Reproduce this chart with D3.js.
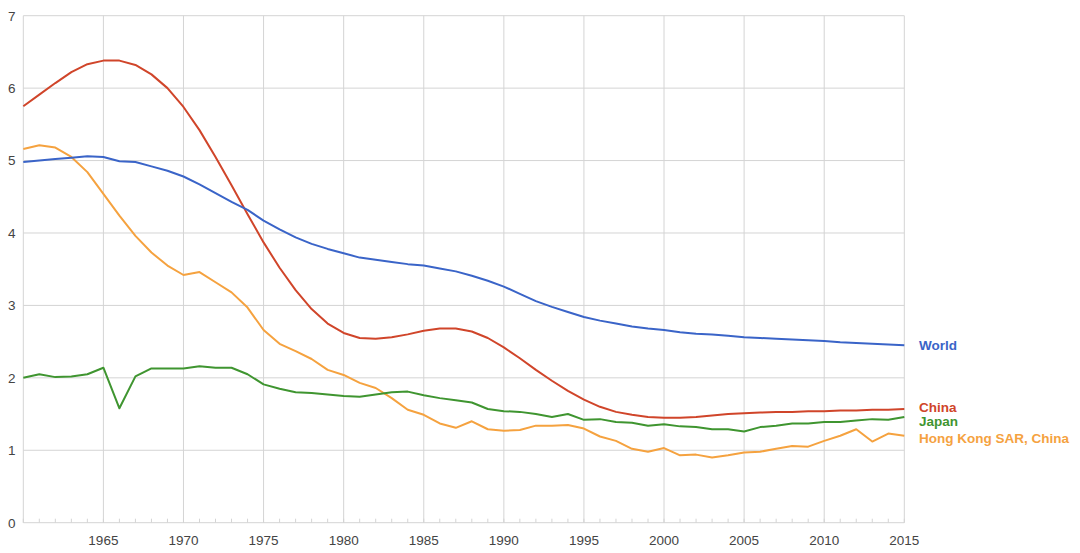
<!DOCTYPE html>
<html>
<head>
<meta charset="utf-8">
<script src="https://cdn.jsdelivr.net/npm/d3@7"></script>
<style>
  html, body { margin: 0; padding: 0; background: #fff; }
  svg { display: block; font-family: "Liberation Sans", Arial, sans-serif; }
</style>
</head>
<body>
<svg id="chart" width="1080" height="553"></svg>
<script>
const years = d3.range(1960, 2016);

const world = [4.98,5.00,5.02,5.04,5.06,5.05,4.99,4.98,4.92,4.86,
               4.78,4.67,4.55,4.43,4.32,4.17,4.05,3.94,3.85,3.78,
               3.72,3.66,3.63,3.60,3.57,3.55,3.51,3.47,3.41,3.34,
               3.26,3.16,3.06,2.98,2.91,2.84,2.79,2.75,2.71,2.68,
               2.66,2.63,2.61,2.60,2.58,2.56,2.55,2.54,2.53,2.52,
               2.51,2.49,2.48,2.47,2.46,2.45];

const china = [5.75,5.91,6.07,6.22,6.33,6.38,6.38,6.32,6.19,6.00,
               5.74,5.42,5.05,4.66,4.26,3.87,3.52,3.21,2.95,2.75,
               2.62,2.55,2.54,2.56,2.60,2.65,2.68,2.68,2.64,2.55,
               2.42,2.27,2.11,1.96,1.82,1.70,1.60,1.53,1.49,1.46,
               1.45,1.45,1.46,1.48,1.50,1.51,1.52,1.53,1.53,1.54,
               1.54,1.55,1.55,1.56,1.56,1.57];

const japan = [2.00,2.05,2.01,2.02,2.05,2.14,1.58,2.02,2.13,2.13,
               2.13,2.16,2.14,2.14,2.05,1.91,1.85,1.80,1.79,1.77,
               1.75,1.74,1.77,1.80,1.81,1.76,1.72,1.69,1.66,1.57,
               1.54,1.53,1.50,1.46,1.50,1.42,1.43,1.39,1.38,1.34,
               1.36,1.33,1.32,1.29,1.29,1.26,1.32,1.34,1.37,1.37,
               1.39,1.39,1.41,1.43,1.42,1.46];

const hongkong = [5.16,5.21,5.18,5.05,4.84,4.54,4.24,3.96,3.73,3.55,
                  3.42,3.46,3.32,3.18,2.97,2.66,2.47,2.37,2.26,2.11,
                  2.04,1.93,1.86,1.72,1.56,1.49,1.37,1.31,1.40,1.29,
                  1.27,1.28,1.34,1.34,1.35,1.30,1.19,1.13,1.02,0.98,
                  1.03,0.93,0.94,0.90,0.93,0.97,0.98,1.02,1.06,1.05,
                  1.13,1.20,1.29,1.12,1.23,1.20];

const seriesNames = ["World", "China", "Japan", "Hong Kong SAR, China"];
const seriesValues = [world, china, japan, hongkong];
const seriesColors = ["#3a64c8", "#d0452a", "#3f9530", "#f5a23f"];

const yTicks = [0, 1, 2, 3, 4, 5, 6, 7];
const xTicks = [1965, 1970, 1975, 1980, 1985, 1990, 1995, 2000, 2005, 2010, 2015];

const svg = d3.select("#chart");
const x = d3.scaleLinear().domain([1960, 2015]).range([23.3, 904.3]);
const y = d3.scaleLinear().domain([0, 7]).range([522.7, 15.7]);

// horizontal grid
svg.append("g").selectAll("line").data(yTicks).join("line")
  .attr("x1", x(1960)).attr("x2", x(2015))
  .attr("y1", d => y(d)).attr("y2", d => y(d))
  .attr("stroke", "#d4d4d4").attr("stroke-width", 1);

// vertical grid
svg.append("g").selectAll("line").data([1960].concat(xTicks)).join("line")
  .attr("x1", d => x(d)).attr("x2", d => x(d))
  .attr("y1", y(7)).attr("y2", y(0))
  .attr("stroke", "#d4d4d4").attr("stroke-width", 1);

// minor year ticks
svg.append("g").selectAll("line").data(years).join("line")
  .attr("x1", d => x(d)).attr("x2", d => x(d))
  .attr("y1", y(0) - 4).attr("y2", y(0))
  .attr("stroke", "#d4d4d4").attr("stroke-width", 1);

// y labels
svg.append("g").selectAll("text").data(yTicks).join("text")
  .attr("x", 15.5).attr("y", d => y(d))
  .attr("dy", "0.36em")
  .attr("text-anchor", "end")
  .attr("font-size", 13.5).attr("fill", "#444")
  .text(d => d);

// x labels
svg.append("g").selectAll("text").data(xTicks).join("text")
  .attr("x", d => x(d)).attr("y", 544.5)
  .attr("text-anchor", "middle")
  .attr("font-size", 13.5).attr("fill", "#444")
  .text(d => d);

const line = d3.line().x((d, i) => x(years[i])).y(d => y(d));

// draw lines: HK, Japan, China, World (world on top)
[3, 2, 1, 0].forEach(k => {
  svg.append("path")
    .datum(seriesValues[k])
    .attr("fill", "none")
    .attr("stroke", seriesColors[k])
    .attr("stroke-width", 2)
    .attr("stroke-linejoin", "round")
    .attr("d", line);
});

// end labels
const labelY = [y(world[55]), 407.3, 420.7, 437.7];
seriesNames.forEach((name, k) => {
  svg.append("text")
    .attr("x", 919).attr("y", labelY[k])
    .attr("dy", "0.36em")
    .attr("font-size", 13.5).attr("font-weight", "bold")
    .attr("fill", seriesColors[k])
    .text(name);
});
</script>
</body>
</html>
